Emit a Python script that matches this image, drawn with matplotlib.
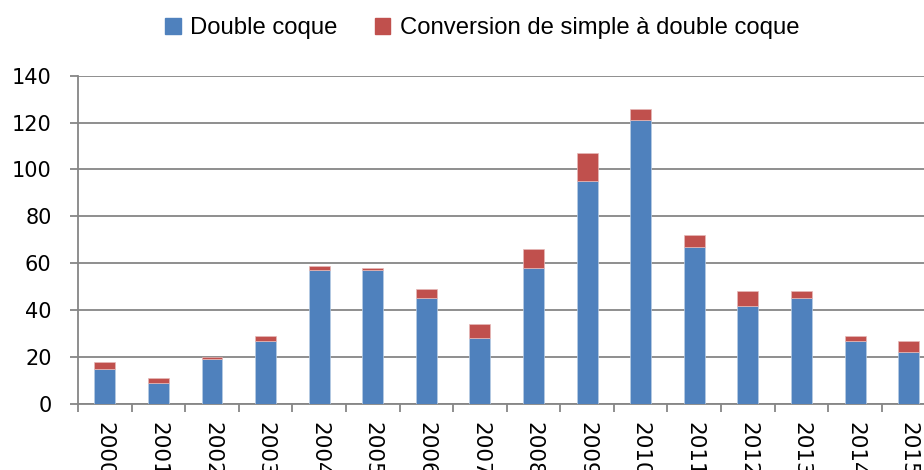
import numpy as np
import matplotlib.pyplot as plt
from matplotlib.patches import Patch

years = [str(y) for y in range(2000, 2016)]
double_coque = [15, 9, 19, 27, 57, 57, 45, 28, 58, 95, 121, 67, 42, 45, 27, 22]
conversion = [3, 2, 1, 2, 2, 1, 4, 6, 8, 12, 5, 5, 6, 3, 2, 5]

blue = "#4F81BD"
red = "#C0504D"
grid_col = "#868686"

fig = plt.figure(figsize=(9.24, 4.70), dpi=100)
ax = fig.add_axes([0.0844, 0.1404, 0.928, 0.6986])

x = np.arange(len(years))
ax.bar(x, double_coque, width=0.39, color=blue, edgecolor="#b8cce4", linewidth=0.5, zorder=3)
ax.bar(x, conversion, width=0.39, bottom=double_coque, color=red,
       edgecolor="#e6b9b8", linewidth=0.5, zorder=3)

ax.set_xlim(-0.5, len(years) - 0.5)
ax.set_ylim(0, 140)
ax.set_yticks(np.arange(0, 141, 20))
ax.yaxis.grid(True, color=grid_col, linewidth=1.3, zorder=0)
ax.set_axisbelow(True)

for s in ["top", "right"]:
    ax.spines[s].set_visible(False)
for s in ["left", "bottom"]:
    ax.spines[s].set_color(grid_col)
    ax.spines[s].set_linewidth(1.3)

# labels at the bar centres, tick marks between categories
ax.set_xticks(x)
ax.set_xticklabels(years, rotation=-90, fontsize=15.5, family="DejaVu Sans", va="top")
ax.set_xticks(np.arange(-0.5, len(years), 1), minor=True)
ax.tick_params(axis="x", which="major", length=0, pad=13)
ax.tick_params(axis="x", which="minor", length=6, width=1.3, color=grid_col)
ax.tick_params(axis="y", length=6, width=1.3, color=grid_col, pad=13, labelsize=15)
for t in ax.get_yticklabels():
    t.set_family("DejaVu Sans")

handles = [Patch(color=blue, label="Double coque"),
           Patch(color=red, label="Conversion de simple à double coque")]
fig.legend(handles=handles, loc="center", bbox_to_anchor=(0.522, 0.94), ncol=2,
           frameon=False, prop={"family": "Liberation Sans", "size": 17.2},
           handlelength=0.65, handleheight=0.65, handletextpad=0.4, columnspacing=1.55)

fig.savefig("out.png", dpi=100)
